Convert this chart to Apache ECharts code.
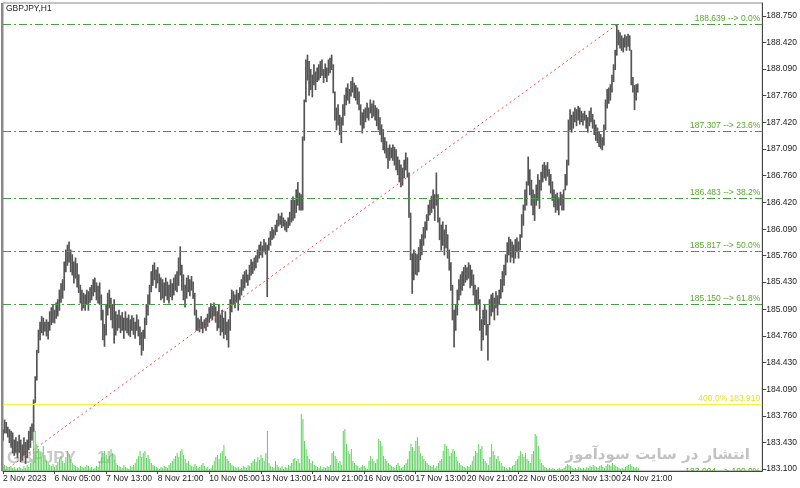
<!DOCTYPE html>
<html><head><meta charset="utf-8">
<script src="https://cdn.jsdelivr.net/npm/echarts@6/dist/echarts.min.js"></script>
<style>html,body{margin:0;padding:0;background:#fff}#c{width:800px;height:488px}</style>
</head><body><div id="c"></div>
<script>
// ---- data (GBPJPY, H1) ----
const chartTitle = 'GBPJPY,H1';
const xTickLabels = ['2 Nov 2023','6 Nov 05:00','7 Nov 13:00','8 Nov 21:00','10 Nov 05:00','13 Nov 13:00','14 Nov 21:00','16 Nov 05:00','17 Nov 13:00','20 Nov 21:00','22 Nov 05:00','23 Nov 13:00','24 Nov 21:00'];
const barsPerLabel = 32;
const yTickLabels = ['183.100','183.430','183.760','184.090','184.430','184.760','185.090','185.430','185.760','186.090','186.420','186.760','187.090','187.420','187.760','188.090','188.420','188.750'];
const highs = [
183.59,183.71,183.68,183.62,183.59,183.57,183.55,183.46,183.49,183.44,
183.52,183.46,183.40,183.49,183.43,183.46,183.57,183.62,183.66,183.96,
184.25,184.58,184.83,184.93,185.00,184.98,184.93,184.96,184.93,185.06,
185.11,185.15,185.08,185.17,185.21,185.33,185.41,185.46,185.68,185.83,
185.89,185.93,185.83,185.77,185.68,185.73,185.66,185.52,185.39,185.33,
185.29,185.27,185.33,185.31,185.36,185.39,185.46,185.48,185.42,185.38,
185.42,185.27,185.08,184.90,185.15,185.29,185.33,185.23,185.15,185.21,
185.06,185.02,185.08,185.01,185.05,184.98,185.06,184.98,185.02,184.96,
185.01,184.98,184.93,185.02,184.96,184.87,184.80,184.83,184.98,185.15,
185.27,185.39,185.56,185.64,185.67,185.58,185.61,185.53,185.48,185.46,
185.42,185.48,185.43,185.39,185.46,185.41,185.48,185.52,185.56,185.73,
185.87,185.64,185.52,185.39,185.48,185.51,185.46,185.50,185.43,185.29,
185.08,184.98,184.96,185.00,184.93,184.96,184.98,185.03,185.11,185.16,
185.13,185.17,185.12,185.06,185.15,185.02,185.08,184.98,185.06,184.93,
184.96,185.21,185.33,185.31,185.27,185.33,185.29,185.36,185.46,185.52,
185.56,185.58,185.52,185.64,185.71,185.68,185.73,185.76,185.83,185.89,
185.93,185.88,185.96,185.92,185.89,185.98,186.06,186.11,186.08,186.14,
186.20,186.28,186.25,186.29,186.23,186.20,186.18,186.23,186.30,186.45,
186.49,186.45,186.58,186.67,186.54,186.52,187.24,187.70,188.20,188.26,
188.18,188.08,188.01,188.14,188.05,188.10,188.14,188.18,188.20,188.08,
188.15,188.10,188.20,188.22,188.26,188.14,187.80,187.60,187.64,187.51,
187.48,187.64,187.76,187.85,187.90,187.83,187.93,187.98,187.91,187.88,
187.85,187.80,187.64,187.54,187.58,187.60,187.66,187.60,187.70,187.65,
187.69,187.63,187.60,187.58,187.48,187.39,187.33,187.23,187.18,187.10,
187.14,187.10,187.14,187.11,187.08,186.99,186.95,186.89,186.85,186.95,
187.04,186.98,186.79,186.29,185.78,185.83,185.79,185.77,185.86,185.96,
186.02,186.11,186.18,186.27,186.39,186.45,186.50,186.58,186.52,186.79,
186.52,186.23,186.14,186.18,186.08,186.14,186.02,185.83,185.67,185.39,
185.08,185.15,185.33,185.46,185.52,185.56,185.61,185.64,185.61,185.67,
185.64,185.58,185.52,185.39,185.33,185.36,185.21,184.96,185.08,185.15,
185.08,184.90,185.21,185.27,185.29,185.23,185.31,185.26,185.33,185.46,
185.56,185.64,185.77,185.92,185.99,185.96,185.93,185.89,185.96,185.98,
185.93,186.02,186.27,186.39,186.58,186.68,186.99,186.83,186.70,186.58,
186.52,186.64,186.77,186.70,186.80,186.89,186.92,186.88,186.92,186.83,
186.77,186.68,186.58,186.52,186.54,186.48,186.55,186.52,186.58,186.77,
186.95,187.45,187.58,187.51,187.55,187.60,187.58,187.62,187.60,187.56,
187.53,187.56,187.51,187.48,187.56,187.60,187.52,187.45,187.39,187.35,
187.30,187.27,187.23,187.39,187.70,187.83,187.85,187.89,188.01,188.14,
188.32,188.639,188.57,188.54,188.50,188.47,188.51,188.49,188.52,188.50,
188.32,187.98,187.88,187.89,187.90];
const lows = [
183.46,183.55,183.55,183.50,183.43,183.37,183.30,183.27,183.31,183.24,
183.31,183.19,183.21,183.27,183.17,183.24,183.34,183.37,183.46,183.57,
183.93,184.21,184.55,184.71,184.80,184.77,184.82,184.76,184.72,184.83,
184.90,184.93,184.92,184.98,185.01,185.08,185.18,185.23,185.33,185.56,
185.64,185.68,185.56,185.52,185.42,185.48,185.37,185.30,185.17,185.08,
185.11,185.08,185.15,185.08,185.18,185.21,185.26,185.31,185.21,185.17,
185.15,184.96,184.71,184.63,184.77,185.02,185.11,184.96,184.86,184.67,
184.77,184.83,184.86,184.80,184.83,184.73,184.83,184.80,184.77,184.75,
184.83,184.78,184.73,184.83,184.76,184.65,184.52,184.58,184.73,184.90,
185.02,185.15,185.31,185.39,185.46,185.36,185.42,185.31,185.21,185.23,
185.18,185.26,185.21,185.17,185.25,185.21,185.27,185.33,185.31,185.39,
185.52,185.33,185.21,185.12,185.23,185.31,185.26,185.33,185.23,185.02,
184.83,184.83,184.81,184.85,184.80,184.86,184.83,184.88,184.93,184.98,
184.96,185.01,184.93,184.83,184.86,184.77,184.81,184.73,184.78,184.71,
184.62,184.83,185.06,185.15,185.11,185.18,185.08,185.21,185.27,185.33,
185.36,185.43,185.39,185.46,185.52,185.54,185.58,185.61,185.68,185.73,
185.77,185.74,185.81,185.78,185.25,185.83,185.89,185.96,185.98,186.02,
186.06,186.13,186.15,186.11,186.13,186.08,186.06,186.11,186.14,186.18,
186.20,186.23,186.30,186.39,186.33,186.33,186.33,187.20,187.68,187.95,
187.76,187.83,187.74,187.89,187.83,187.93,187.95,187.98,188.01,187.92,
187.98,187.93,188.01,188.04,188.08,187.79,187.45,187.33,187.39,187.27,
187.17,187.39,187.51,187.64,187.70,187.66,187.75,187.80,187.73,187.70,
187.65,187.58,187.39,187.29,187.35,187.43,187.48,187.45,187.54,187.48,
187.50,187.45,187.38,187.33,187.27,187.18,187.08,187.04,186.98,186.85,
186.95,186.98,186.95,186.89,186.83,186.77,186.68,186.62,186.64,186.73,
186.83,186.74,186.24,185.71,185.29,185.46,185.53,185.52,185.56,185.71,
185.77,185.89,185.98,186.08,186.20,186.27,186.30,186.35,186.20,186.39,
186.18,185.96,185.83,185.89,185.77,185.86,185.73,185.58,185.33,184.96,
184.62,184.83,185.02,185.21,185.27,185.33,185.39,185.43,185.46,185.48,
185.36,185.39,185.27,185.15,185.08,185.15,184.83,184.58,184.71,184.90,
184.77,184.46,184.90,185.01,185.06,184.96,185.11,185.02,185.15,185.23,
185.31,185.39,185.52,185.68,185.77,185.68,185.74,185.67,185.73,185.81,
185.73,185.83,185.99,186.14,186.33,186.39,186.64,186.52,186.39,186.27,
186.20,186.39,186.45,186.35,186.58,186.68,186.73,186.70,186.75,186.64,
186.54,186.45,186.37,186.30,186.33,186.27,186.39,186.33,186.33,186.58,
186.64,186.89,187.33,187.30,187.35,187.43,187.38,187.45,187.40,187.43,
187.39,187.45,187.35,187.30,187.38,187.43,187.35,187.27,187.20,187.17,
187.12,187.10,187.08,187.14,187.33,187.60,187.66,187.70,187.80,187.93,
188.08,188.26,188.39,188.35,188.32,188.30,188.36,188.32,188.37,188.32,
187.89,187.80,187.58,187.70,187.80];
const tickVolume = [
700,600,500,400,300,500,300,400,200,300,
400,300,200,500,300,600,400,800,1200,4500,
4000,2700,2200,1800,1400,2500,1600,1000,800,600,
500,700,400,600,900,1200,1500,1000,800,1400,
2000,1700,1200,800,600,500,400,300,500,400,
300,400,600,500,300,400,200,300,500,400,
1000,1400,1800,2000,1600,1200,1500,2200,1800,1100,
800,600,500,400,300,600,400,300,200,500,
400,600,800,1200,1500,2000,1400,1800,2000,1300,
1600,1200,800,600,500,400,300,200,400,300,
500,400,300,600,800,1000,1200,1500,1800,1400,
2000,2200,1600,1200,800,1000,600,500,400,700,
500,300,400,600,800,500,300,400,200,300,
600,1000,1400,1600,1200,1800,2000,2600,1500,1200,
1000,800,600,500,400,300,400,200,300,500,
400,300,600,500,800,1000,1200,900,1400,1100,
1600,1300,1000,1800,4000,800,500,400,300,1000,
600,400,300,500,200,400,300,600,500,800,
1200,1300,1000,1200,800,5700,5200,3000,2200,1500,
1200,800,1000,600,500,400,300,500,200,400,
300,500,400,600,1800,2000,1500,1200,800,1000,
600,4000,4200,2700,2000,1700,2200,1000,800,600,
500,300,400,600,500,300,200,1000,1500,1200,
1000,800,1200,3200,3000,2500,1500,1200,1000,800,
600,500,400,300,600,800,500,300,400,600,
800,1200,2000,2700,2400,2000,3000,3400,2500,1800,
1500,1200,1000,800,600,500,400,600,300,500,
800,1000,1200,2000,2700,2500,2200,1500,1800,2200,
2000,1400,1000,800,600,500,400,300,500,400,
600,1000,1500,2000,1800,2700,2200,2500,1200,1000,
800,600,1400,2700,2000,1600,1200,1500,1000,800,
500,400,300,200,400,300,500,600,1000,1200,
1500,2000,1700,1400,1800,1200,1000,800,1700,2000,
3700,3500,2500,1200,800,600,400,300,200,300,
200,300,200,100,200,300,200,200,300,500,
700,600,500,300,200,300,200,400,300,200,
300,200,400,300,500,400,600,500,400,300,
500,600,400,300,500,700,600,500,800,600,
500,400,300,200,300,200,400,500,600,700,
500,400,300,400,300];
const fibPrices = [188.639, 187.307, 186.483, 185.817, 185.150];
const fibNames  = ['0.0%', '23.6%', '38.2%', '50.0%', '61.8%'];
const fib100Price = 183.004, fib100Name = '100.0%';
const extPrice = 183.910, extName = '400.0%';
const trendStart = [-4, 183.004];   // [bar index, price]
const trendEnd = [381, 188.639];
const watermarkSymbol = 'GBPJPY', watermarkTf = '1h';
const watermarkSite = 'انتشار در سایت سودآموز';

// ---- chart ----
const FONT = 'Liberation Sans, Arial, sans-serif';
const xMin = 0, xMax = 471.3;
const xTicks = xTickLabels.map((_, k) => k * barsPerLabel);
const yTicks = yTickLabels.map(Number);
const barData = highs.map((h, i) => [i, lows[i], h]);
const volData = tickVolume.map((v, i) => [i, v]);
const fibText = p => p.toFixed(3) + ' --> ';

const chart = echarts.init(document.getElementById('c'), null, {renderer: 'canvas'});
chart.setOption({
  animation: false,
  backgroundColor: '#ffffff',
  grid: [
    {left: 3, right: 37, top: 3, bottom: 17, show: true, borderColor: '#8a8a8a', borderWidth: 1},
    {left: 3, right: 37, top: 411, bottom: 17}
  ],
  xAxis: [
    {type: 'value', gridIndex: 0, min: xMin, max: xMax,
     axisLine: {show: true, onZero: false, lineStyle: {color: '#444', width: 1}},
     axisTick: {show: true, length: 3, customValues: xTicks, lineStyle: {color: '#444'}},
     axisLabel: {customValues: xTicks, formatter: v => xTickLabels[Math.round(v / barsPerLabel)] || '',
                 align: 'left', margin: 3, color: '#1a1a1a', fontFamily: FONT, fontSize: 8.5},
     splitLine: {show: false}},
    {type: 'value', gridIndex: 1, min: xMin, max: xMax, show: false}
  ],
  yAxis: [
    {type: 'value', gridIndex: 0, position: 'right', min: 183.075, max: 188.91, scale: true,
     axisLine: {show: true, onZero: false, lineStyle: {color: '#444', width: 1}},
     axisTick: {show: true, length: 4, customValues: yTicks, lineStyle: {color: '#444'}},
     axisLabel: {customValues: yTicks, formatter: v => v.toFixed(3), margin: 4,
                 color: '#1a1a1a', fontFamily: FONT, fontSize: 8.5},
     splitLine: {show: false}},
    {type: 'value', gridIndex: 1, min: 0, max: 6000, show: false}
  ],
  graphic: [
    {type: 'rect', left: 1, top: 3, z: 50, shape: {width: 2, height: 468}, style: {fill: '#8a8a8a'}},
    {type: 'text', left: 6, top: 4, z: 60, style: {text: chartTitle, font: '8.5px ' + FONT, fill: '#222'}},
    {type: 'text', x: 7, y: 458, z: -10, style: {text: watermarkSymbol, font: 'bold 17px "Liberation Sans"', fill: '#cacaca', verticalAlign: 'middle'}},
    {type: 'text', x: 97, y: 458, z: -10, style: {text: watermarkTf, font: 'bold 17px "Liberation Sans"', fill: '#cacaca', verticalAlign: 'middle'}},
    {type: 'text', x: 750, y: 455, z: -10, style: {text: watermarkSite, font: 'bold 15px "DejaVu Sans"', fill: '#c2c2c2', align: 'right', verticalAlign: 'middle'}}
  ],
  series: [
    {type: 'bar', xAxisIndex: 1, yAxisIndex: 1, data: volData, barWidth: 1, z: 1,
     itemStyle: {color: '#5dcf5d'}, silent: true},
    {type: 'custom', xAxisIndex: 0, yAxisIndex: 0, data: barData, clip: false, z: 3,
     encode: {x: 0, y: [1, 2]},
     renderItem: (p, api) => {
       const a = api.coord([api.value(0), api.value(1)]);
       const b = api.coord([api.value(0), api.value(2)]);
       return {type: 'line', shape: {x1: a[0], y1: a[1] + 0.5, x2: b[0], y2: b[1] - 0.5},
               style: {stroke: '#555555', lineWidth: 1.7}};
     }},
    {type: 'line', xAxisIndex: 0, yAxisIndex: 0, data: [trendStart, trendEnd], clip: true, z: 5,
     symbol: 'none', silent: true,
     lineStyle: {color: '#ff4a4a', width: 1, type: [2, 3]},
     markLine: {
       silent: true, symbol: ['none', 'none'], z: 4,
       data: fibPrices.map((p, i) => ({yAxis: p,
         lineStyle: {color: '#43a043', width: 1, type: [8, 3, 2, 3]},
         label: {show: true, position: 'insideEndTop', formatter: fibText(p) + fibNames[i],
                 color: '#58a82a', fontFamily: FONT, fontSize: 8.5, distance: [2, 1]}}))
         .concat([{yAxis: extPrice,
           lineStyle: {color: '#f3f33a', width: 1, type: 'solid'},
           label: {show: true, position: 'insideEndTop', formatter: extName + ' ' + extPrice.toFixed(3),
                   color: '#e4e41c', fontFamily: FONT, fontSize: 8.5, distance: [2, 1]}}])
     }},
    {type: 'custom', xAxisIndex: 0, yAxisIndex: 0, data: [[xMax, fib100Price]], clip: true, z: 5,
     silent: true,
     renderItem: (p, api) => {
       const c = api.coord([api.value(0), api.value(1)]);
       return {type: 'text', x: c[0] - 2, y: c[1] - 1,
               style: {text: fibText(fib100Price) + fib100Name, align: 'right', verticalAlign: 'bottom',
                       fill: '#58a82a', font: '8.5px ' + FONT}};
     }}
  ]
});
</script></body></html>
